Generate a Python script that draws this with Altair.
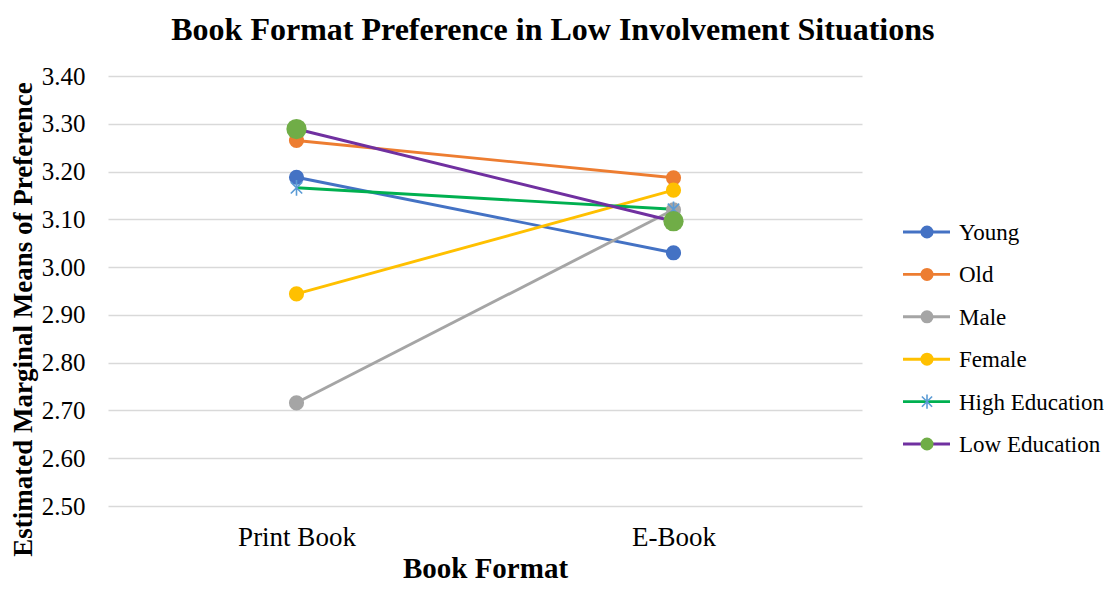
import altair as alt
import pandas as pd

# ---- data ----
groups = ["Young", "Old", "Male", "Female", "High Education", "Low Education"]
formats = ["Print Book", "E-Book"]
print_values = [3.188, 3.265, 2.716, 2.944, 3.166, 3.289]
ebook_values = [3.030, 3.187, 3.120, 3.161, 3.121, 3.096]
y_ticks = [2.50, 2.60, 2.70, 2.80, 2.90, 3.00, 3.10, 3.20, 3.30, 3.40]

# ---- styles ----
line_colors = ["#4472C4", "#ED7D31", "#A5A5A5", "#FFC000", "#00B050", "#7030A0"]
marker_colors = ["#4472C4", "#ED7D31", "#A5A5A5", "#FFC000", "#5B9BD5", "#70AD47"]
line_widths = [2.9, 2.9, 2.9, 2.9, 3.6, 4.0]
FONT = "Liberation Serif"
ASTERISK = "M0,-1L0,1M-0.72,-0.72L0.72,0.72M-0.72,0.72L0.72,-0.72"

rows = []
for i, g in enumerate(groups):
    rows.append({"group": g, "format": formats[0], "value": print_values[i], "order": i})
    rows.append({"group": g, "format": formats[1], "value": ebook_values[i], "order": i})
df = pd.DataFrame(rows)

line_color = alt.Color("group:N", scale=alt.Scale(domain=groups, range=line_colors), legend=None)
marker_fill = alt.Fill("group:N", scale=alt.Scale(domain=groups, range=marker_colors), legend=None)
line_width = alt.StrokeWidth("group:N", scale=alt.Scale(domain=groups, range=line_widths), legend=None)

base = alt.Chart(df).encode(
    x=alt.X(
        "format:N",
        sort=formats,
        scale=alt.Scale(type="point", padding=0.5),
        axis=alt.Axis(
            title="Book Format", labelAngle=0, grid=False, domain=False, ticks=False,
            tickSize=0, labelFont=FONT, labelFontSize=27, labelColor="black",
            labelPadding=18, titleFont=FONT, titleFontSize=29, titleFontWeight="bold",
            titleColor="black", titlePadding=4,
        ),
    ),
    y=alt.Y(
        "value:Q",
        scale=alt.Scale(domain=[2.5, 3.4], nice=False, zero=False),
        axis=alt.Axis(
            title="Estimated Marginal Means of Preference", values=y_ticks, format=".2f",
            domain=False, ticks=False, tickSize=0, labelFont=FONT, labelFontSize=25,
            labelColor="black", labelPadding=23, titleFont=FONT, titleFontSize=27,
            titleFontWeight="bold", titleColor="black", titlePadding=3.5, titleY=243,
            gridColor="#D9D9D9", gridWidth=1.3,
        ),
    ),
)

lines = base.mark_line().encode(color=line_color, strokeWidth=line_width, order="order:Q")
pts_a = base.mark_point(filled=True, size=230, opacity=1, strokeWidth=0).encode(
    fill=marker_fill
).transform_filter(alt.FieldOneOfPredicate(field="group", oneOf=groups[:4]))
pts_high = base.mark_point(shape=ASTERISK, filled=False, size=250, strokeWidth=1.6,
                           color=marker_colors[4], opacity=1).transform_filter(
    alt.FieldEqualPredicate(field="group", equal=groups[4])
)
pts_low = base.mark_point(filled=True, size=410, opacity=1, strokeWidth=0).encode(
    fill=marker_fill
).transform_filter(alt.FieldEqualPredicate(field="group", equal=groups[5]))

main = alt.layer(lines, pts_a, pts_high, pts_low).properties(width=754, height=430)

# ---- legend panel ----
leg_df = pd.DataFrame({"group": groups})
ly = alt.Y("group:N", sort=groups, scale=alt.Scale(type="point", range=[156, 368], padding=0), axis=None)
leg_base = alt.Chart(leg_df).encode(y=ly)
leg_rule = leg_base.mark_rule().encode(x=alt.value(41), x2=alt.value(88), color=line_color,
                                       strokeWidth=line_width)
leg_pts = leg_base.mark_point(filled=True, size=170, opacity=1, strokeWidth=0).encode(
    x=alt.value(65), fill=marker_fill
).transform_filter(alt.FieldOneOfPredicate(field="group", oneOf=groups[:4] + groups[5:]))
leg_high = leg_base.mark_point(shape=ASTERISK, filled=False, size=200, strokeWidth=1.6,
                               color=marker_colors[4], opacity=1).encode(
    x=alt.value(65)
).transform_filter(alt.FieldEqualPredicate(field="group", equal=groups[4]))
leg_text = leg_base.mark_text(align="left", baseline="middle", dy=1, font=FONT, fontSize=23,
                              color="black").encode(x=alt.value(97), text="group:N")
legend = alt.layer(leg_rule, leg_pts, leg_high, leg_text).properties(width=238, height=430)

chart = alt.hconcat(main, legend, spacing=0).properties(
    title=alt.Title(
        "Book Format Preference in Low Involvement Situations",
        font=FONT, fontSize=32, fontWeight="bold", color="black",
        anchor="middle", offset=17, dx=-4,
    ),
    padding={"left": 1, "top": 6, "right": 0, "bottom": 0},
).configure_view(stroke=None)

chart.save("out.html", embed_options={"renderer": "svg", "actions": False})
